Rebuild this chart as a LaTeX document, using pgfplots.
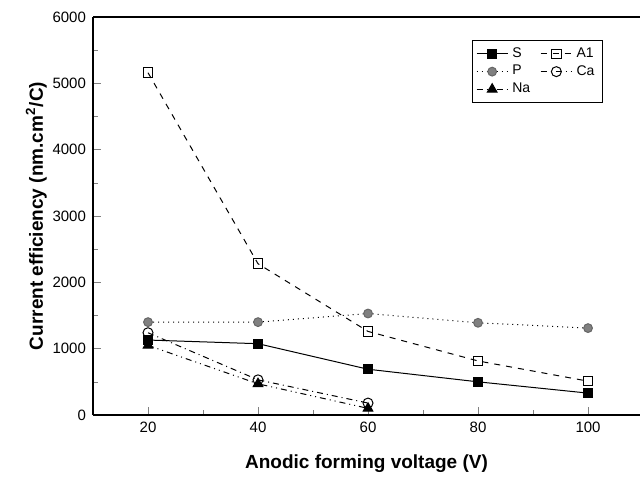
\documentclass[border=0pt]{standalone}
\usepackage{fontspec}
\setmainfont{Liberation Sans}
\usepackage{pgfplots}
\pgfplotsset{compat=1.18}

\begin{document}
\begin{tikzpicture}
  \begin{axis}[
    scale only axis,
    width=273.5pt, height=199pt,
    xmin=10, xmax=109.45,
    ymin=0, ymax=6000,
    xtick={20,40,60,80,100},
    minor xtick={10,30,50,70,90,110},
    ytick={0,1000,2000,3000,4000,5000,6000},
    minor ytick={500,1500,2500,3500,4500,5500},
    axis y line*=left,
    xtick pos=bottom, ytick pos=left,
    tick align=inside,
    major tick length=4pt, minor tick length=2.5pt,
    scaled y ticks=false,
    /pgf/number format/assume math mode=true,
    /pgf/number format/set thousands separator={},
    tick label style={font=\fontsize{7.5}{9}\selectfont},
    xlabel={\textbf{Anodic forming voltage (V)}},
    ylabel={\textbf{Current efficiency (nm.cm\textsuperscript{2}/C)}},
    label style={font=\fontsize{9.5}{11}\selectfont},
    xlabel style={yshift=-4pt},
    ylabel style={yshift=-4pt},
    axis line style={line width=0.8pt},
    every axis plot/.append style={black, line width=0.5pt},
    legend columns=2,
    legend image code/.code={%
      \draw[#1, mark=none] (0cm,0cm) -- (0.55cm,0cm);
      \draw[#1] plot coordinates {(0.275cm,0cm)};},
    legend style={at={(0.932,0.942)}, anchor=north east,
      font=\fontsize{7}{8}\selectfont, draw=black, line width=0.4pt,
      inner xsep=2pt, inner ysep=1.5pt, row sep=-1.5pt,
      /tikz/every even column/.append style={column sep=3pt}},
    legend cell align=left,
  ]
    \addplot[mark=square*, mark size=2.2pt, mark options={fill=black, solid}]
      coordinates {(20,1130) (40,1075) (60,690) (80,500) (100,330)};
    \addlegendentry{S}
    \addplot[dashed, mark=square, mark size=2.4pt, mark options={fill=white, solid}]
      coordinates {(20,5160) (40,2280) (60,1260) (80,815) (100,510)};
    \addlegendentry{A1}
    \addplot[dotted, mark=*, mark size=2.2pt, mark options={fill=gray, draw=gray!80!black, solid}]
      coordinates {(20,1400) (40,1400) (60,1530) (80,1390) (100,1310)};
    \addlegendentry{P}
    \addplot[dashdotted, mark=o, mark size=2.5pt, mark options={fill=white, solid}]
      coordinates {(20,1240) (40,530) (60,180)};
    \addlegendentry{Ca}
    \addplot[dash dot dot, mark=triangle*, mark size=2.8pt, mark options={fill=black, solid}]
      coordinates {(20,1050) (40,470) (60,100)};
    \addlegendentry{Na}
  \end{axis}
  \pgfresetboundingbox
  \path[use as bounding box] (-46.5pt,-32.5pt) rectangle (273.5pt,207.5pt);
\end{tikzpicture}
\end{document}
